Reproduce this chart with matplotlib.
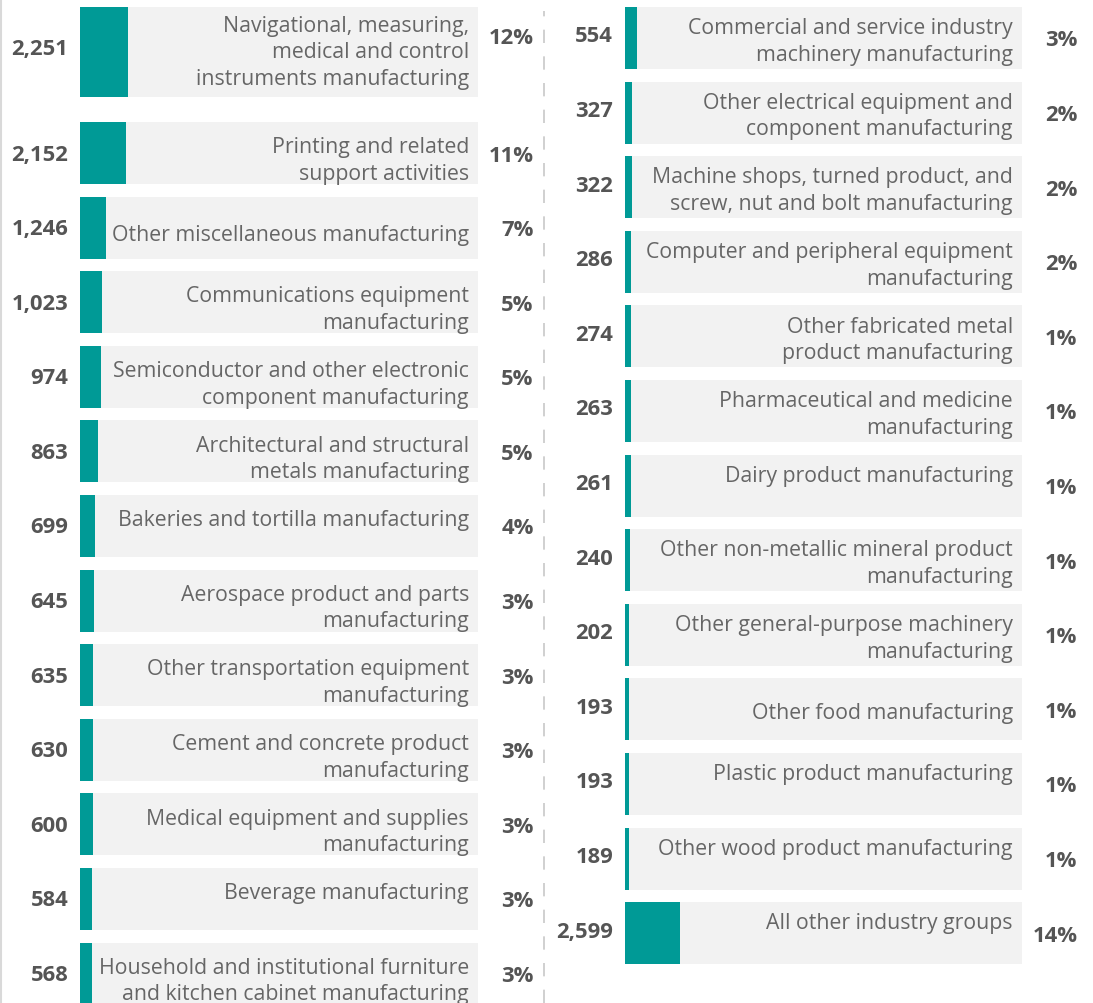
import matplotlib.pyplot as plt
from matplotlib.lines import Line2D

plt.rcParams['font.family'] = ['Open Sans', 'DejaVu Sans']

left_labels = [
    "Navigational, measuring,\nmedical and control\ninstruments manufacturing",
    "Printing and related\nsupport activities",
    "Other miscellaneous manufacturing",
    "Communications equipment\nmanufacturing",
    "Semiconductor and other electronic\ncomponent manufacturing",
    "Architectural and structural\nmetals manufacturing",
    "Bakeries and tortilla manufacturing\n",
    "Aerospace product and parts\nmanufacturing",
    "Other transportation equipment\nmanufacturing",
    "Cement and concrete product\nmanufacturing",
    "Medical equipment and supplies\nmanufacturing",
    "Beverage manufacturing\n",
    "Household and institutional furniture\nand kitchen cabinet manufacturing",
]
left_values = [2251, 2152, 1246, 1023, 974, 863, 699, 645, 635, 630, 600, 584, 568]

right_labels = [
    "Commercial and service industry\nmachinery manufacturing",
    "Other electrical equipment and\ncomponent manufacturing",
    "Machine shops, turned product, and\nscrew, nut and bolt manufacturing",
    "Computer and peripheral equipment\nmanufacturing",
    "Other fabricated metal\nproduct manufacturing",
    "Pharmaceutical and medicine\nmanufacturing",
    "Dairy product manufacturing\n",
    "Other non-metallic mineral product\nmanufacturing",
    "Other general-purpose machinery\nmanufacturing",
    "Other food manufacturing",
    "Plastic product manufacturing\n",
    "Other wood product manufacturing\n",
    "All other industry groups\n",
]
right_values = [554, 327, 322, 286, 274, 263, 261, 240, 202, 193, 193, 189, 2599]

total = sum(left_values) + sum(right_values)

TEAL = '#009a96'
BG = '#f2f2f2'
TXT = '#666666'
NUM = '#555555'

W, H = 1093, 1004
pitch = 74.6
fig = plt.figure(figsize=(W / 100, H / 100), dpi=100)

# row centres / heights in pixel units (y axis runs top-down)
left_c = [53] + [154 + pitch * i for i in range(12)]
left_h = [90] + [62] * 12
right_c = [39 + pitch * i for i in range(13)]
right_h = [62] * 13


def draw(x0, x1, labels, values, centres, heights, shift, vshift):
    ax = fig.add_axes([x0 / W, 0, (x1 - x0) / W, 1])
    ax.set_xlim(0, total)
    ax.set_ylim(H, 0)
    ax.axis('off')
    ax.barh(centres, [total] * len(values), height=heights, color=BG, left=0)
    ax.barh(centres, values, height=heights, color=TEAL, left=0)
    for lab, v, c, h in zip(labels, values, centres, heights):
        tall = h > 80
        ax.annotate(lab, xy=(total, c + (0 if tall else shift)), xytext=(-6.5, 0),
                    textcoords='offset points', ha='right', va='center', fontsize=15.3,
                    color=TXT, linespacing=1.34, annotation_clip=False)
        yc = c - 5 if tall else c
        ax.annotate(f"{v:,}", xy=(0, yc + vshift), xytext=(-8.5, 0), textcoords='offset points',
                    ha='right', va='center', fontsize=15.8, fontweight='bold', color=NUM,
                    annotation_clip=False)
        yp = c - 14 if tall else c + 2
        ax.annotate(f"{round(v / total * 100)}%", xy=(total, yp), xytext=(40, 0),
                    textcoords='offset points', ha='right', va='center', fontsize=15.8,
                    fontweight='bold', color=NUM, annotation_clip=False)
    return ax


draw(80, 478, left_labels, left_values, left_c, left_h, 7, 1)
draw(625, 1022, right_labels, right_values, right_c, right_h, 3, -2)

fig.add_artist(Line2D([544 / W, 544 / W], [0, 1 - 12 / H], color='#c8c8c8', lw=1.2,
                      linestyle=(0, (8, 8))))
fig.add_artist(Line2D([0.8 / W, 0.8 / W], [0, 1], color='#d9d9d9', lw=1.5))

fig.savefig('out.png', dpi=100, facecolor='white')
